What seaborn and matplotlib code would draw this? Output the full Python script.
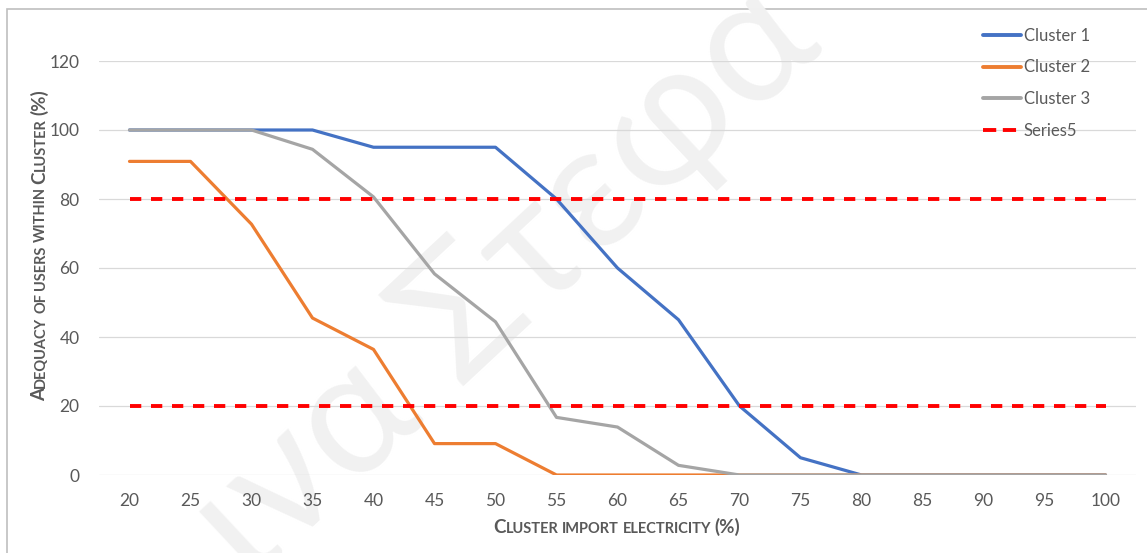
import matplotlib
matplotlib.use("Agg")
import matplotlib.pyplot as plt
import seaborn as sns
import pandas as pd
from matplotlib.patches import Rectangle

# ---------------- data ----------------
import_pct = [20, 25, 30, 35, 40, 45, 50, 55, 60, 65, 70, 75, 80, 85, 90, 95, 100]
cluster1 = [100, 100, 100, 100, 95, 95, 95, 80, 60, 45, 20, 5, 0, 0, 0, 0, 0]
cluster2 = [90.9, 90.9, 72.7, 45.5, 36.4, 9.1, 9.1, 0, 0, 0, 0, 0, 0, 0, 0, 0, 0]
cluster3 = [100, 100, 100, 94.4, 80.6, 58.3, 44.4, 16.7, 13.9, 2.8, 0, 0, 0, 0, 0, 0, 0]
series5_upper = [80, 80, 80, 80, 80, 80, 80, 80, 80, 80, 80, 80, 80, 80, 80, 80, 80]
series5_lower = [20, 20, 20, 20, 20, 20, 20, 20, 20, 20, 20, 20, 20, 20, 20, 20, 20]
y_ticks = [0, 20, 40, 60, 80, 100, 120]
series_names = ["Cluster 1", "Cluster 2", "Cluster 3", "Series5"]
x_title = "Cluster import electricity (%)"
y_title = "Adequacy of users within Cluster (%)"
watermark = "ινα Στεφα"

# ---------------- style ----------------
sns.set_theme(style="white")
FAM = ["Lato", "DejaVu Sans"]
plt.rcParams["font.family"] = FAM
TXT = "#595959"

W, H = 1147, 553
fig = plt.figure(figsize=(W / 100, H / 100), dpi=100)
fig.patch.set_facecolor("white")

# outer chart border (cropped on right & bottom)
fig.add_artist(Rectangle((7 / W, -0.05), 1.2, 1 - 9 / H + 0.05, transform=fig.transFigure,
                         fill=False, edgecolor="#BFBFBF", linewidth=1.2, zorder=0))

# watermark
fig.text(505 / W, 1 - 280 / H, watermark, rotation=43, fontsize=126, color="#F1F1F1",
         ha="center", va="center", family=FAM, zorder=0.5)

ax = fig.add_axes([99 / W, 1 - 475 / H, (1136 - 99) / W, (475 - 61) / H])
ax.set_facecolor("none")
ax.set_zorder(2)

df = pd.DataFrame({"x": import_pct, "c1": cluster1, "c2": cluster2, "c3": cluster3,
                   "s_hi": series5_upper, "s_lo": series5_lower})

lw = 2.3
sns.lineplot(data=df, x="x", y="c1", ax=ax, color="#4472C4", lw=lw, label=series_names[0])
sns.lineplot(data=df, x="x", y="c2", ax=ax, color="#ED7D31", lw=lw, label=series_names[1])
sns.lineplot(data=df, x="x", y="c3", ax=ax, color="#A5A5A5", lw=lw, label=series_names[2])
sns.lineplot(data=df, x="x", y="s_hi", ax=ax, color="#FF0000", lw=2.8, label=series_names[3],
             dashes=False)
sns.lineplot(data=df, x="x", y="s_lo", ax=ax, color="#FF0000", lw=2.8, legend=False)
for ln in ax.lines[3:5]:
    ln.set_linestyle((0, (2.9, 2.5)))
    ln.set_dash_capstyle("butt")

ax.set_xlim(17.5, 102.5)
ax.set_ylim(0, 120)
ax.set_xticks(import_pct)
ax.set_xticklabels([str(v) for v in import_pct])
ax.set_yticks(y_ticks)
ax.set_yticklabels([str(v) for v in y_ticks])
ax.grid(axis="y", color="#D9D9D9", lw=0.9)
ax.set_axisbelow(True)
for s in ax.spines.values():
    s.set_visible(False)
ax.tick_params(axis="both", length=0, labelsize=12.5, colors=TXT)
ax.tick_params(axis="y", pad=14)
ax.tick_params(axis="x", pad=13)
ax.set_xlabel("")
ax.set_ylabel("")

leg = ax.legend(loc="upper left", bbox_to_anchor=(983 / W, 1 - 28 / H),
                bbox_transform=fig.transFigure, frameon=False, fontsize=12,
                handlelength=2.3, handletextpad=0.15, labelspacing=0.93,
                borderpad=0, borderaxespad=0)
for t in leg.get_texts():
    t.set_color(TXT)
for h in leg.get_lines():
    h.set_linewidth(2.8)
leg.get_lines()[3].set_linestyle((0, (3.4, 1.7)))
leg.get_lines()[3].set_dash_capstyle("butt")


# ---------------- small-caps titles ----------------
BIG, SMALL = 13.5, 10.5


def pieces_of(text):
    out = []
    words = text.split(" ")
    for i, w in enumerate(words):
        if i > 0:
            out.append((" ", SMALL))
        if w.startswith("("):
            out.append((w, BIG))
        elif w[0].isupper():
            out.append((w[0], BIG))
            if len(w) > 1:
                out.append((w[1:].upper(), SMALL))
        else:
            out.append((w.upper(), SMALL))
    return out


fig.canvas.draw()
R = fig.canvas.get_renderer()


def width_of(s, size):
    if s == " ":
        a = fig.text(0, 0, "x x", fontsize=size, fontweight="bold", family=FAM)
        b = fig.text(0, 0, "xx", fontsize=size, fontweight="bold", family=FAM)
        w = a.get_window_extent(R).width - b.get_window_extent(R).width
        a.remove(); b.remove()
        return w
    t = fig.text(0, 0, s, fontsize=size, fontweight="bold", family=FAM)
    w = t.get_window_extent(R).width
    t.remove()
    return w


def draw_title(text, cx, cy, vertical):
    ps = pieces_of(text)
    ws = [width_of(s, sz) for s, sz in ps]
    total = sum(ws)
    pos = -total / 2.0
    for (s, sz), w in zip(ps, ws):
        if s != " ":
            if vertical:
                fig.text((cx) / W, (H - cy + pos) / H, s, fontsize=sz, fontweight="bold",
                         color=TXT, family=FAM, rotation=90, rotation_mode="anchor",
                         ha="left", va="baseline")
            else:
                fig.text((cx + pos) / W, (H - cy) / H, s, fontsize=sz, fontweight="bold",
                         color=TXT, family=FAM, ha="left", va="baseline")
        pos += w


draw_title(x_title, 617, 533, vertical=False)
draw_title(y_title, 45, 245, vertical=True)

fig.savefig("out.png", dpi=100, facecolor="white")
